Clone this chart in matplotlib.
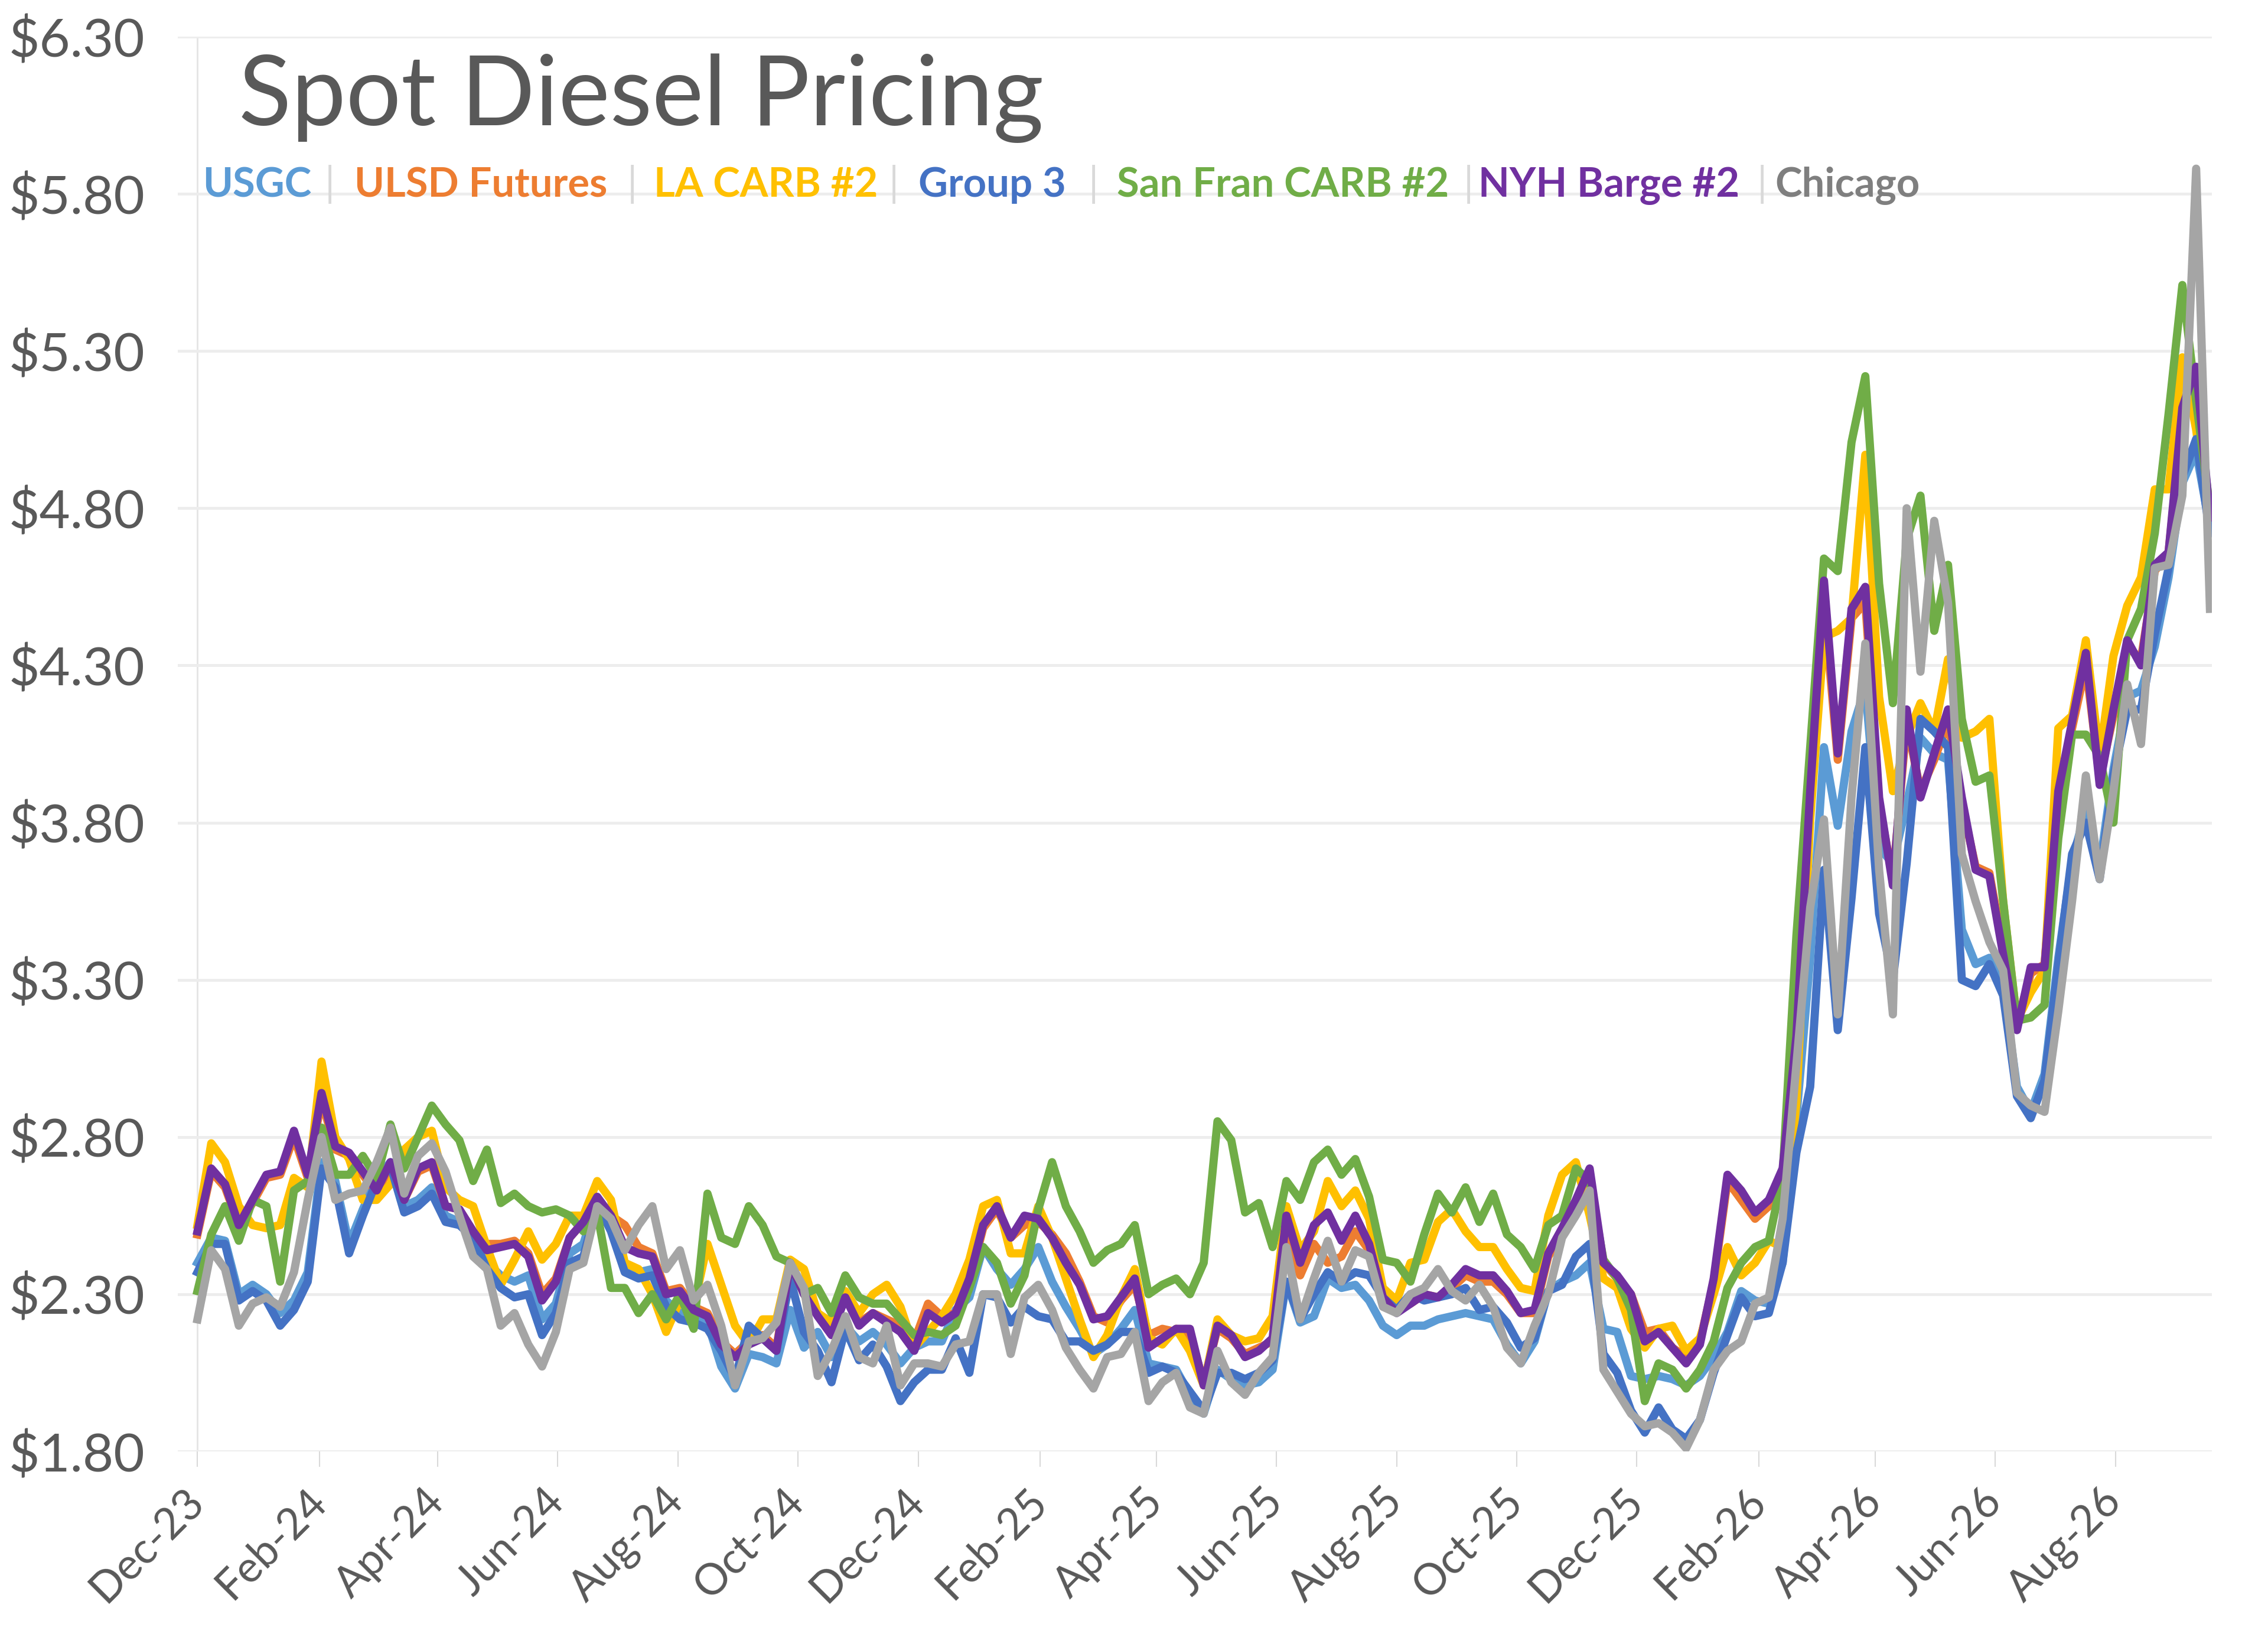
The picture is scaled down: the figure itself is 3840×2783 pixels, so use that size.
import matplotlib
matplotlib.use("Agg")
import matplotlib.pyplot as plt
import matplotlib.dates as mdates
from matplotlib.ticker import FuncFormatter
import pandas as pd
import numpy as np

plt.rcParams['font.family'] = ['Lato', 'DejaVu Sans']

# weekly samples, starting 1 Dec 2023
dates = pd.date_range('2023-12-01', periods=147, freq='7D')

usgc = [2.40, 2.48, 2.47, 2.30, 2.33, 2.30, 2.24, 2.28, 2.37, 2.72, 2.66, 2.46, 2.57, 2.67, 2.72, 2.58, 2.60, 2.64, 2.55, 2.53,
        2.49, 2.40, 2.36, 2.34, 2.36, 2.22, 2.27, 2.43, 2.46, 2.60, 2.51, 2.39, 2.37, 2.38, 2.28, 2.24, 2.22, 2.21,
        2.07, 2.00, 2.11, 2.10, 2.08, 2.25, 2.13, 2.18, 2.10, 2.20, 2.15, 2.18, 2.14, 2.08, 2.13, 2.15, 2.15, 2.25,
        2.29, 2.45, 2.38, 2.33, 2.38, 2.45, 2.34, 2.26, 2.19, 2.11, 2.14, 2.19, 2.25, 2.08, 2.07, 2.06, 1.98, 1.92, 2.06,
        2.03, 2.01, 2.02, 2.06, 2.34, 2.21, 2.23, 2.35, 2.32, 2.33, 2.28, 2.20, 2.17, 2.20, 2.20, 2.22, 2.23, 2.24,
        2.23, 2.22, 2.14, 2.08, 2.15, 2.31, 2.34, 2.36, 2.40, 2.19, 2.18, 2.04, 2.03, 2.04, 2.03, 2.01, 2.04, 2.10, 2.18,
        2.31, 2.28, 2.27, 2.40, 2.86, 3.37, 4.04, 3.79, 4.09, 4.23, 3.72, 3.67, 3.86, 4.07, 4.02, 4.00, 3.46, 3.35, 3.37,
        3.28, 2.96, 2.88, 3.00, 3.37, 3.68, 3.84, 3.66, 3.97, 4.20, 4.22, 4.36, 4.58, 4.88, 4.98, 4.74]

ulsd = [2.49, 2.69, 2.64, 2.52, 2.59, 2.67, 2.68, 2.80, 2.67, 2.92, 2.76, 2.74, 2.68, 2.62, 2.71, 2.60, 2.69, 2.71, 2.58, 2.57,
        2.50, 2.46, 2.46, 2.47, 2.43, 2.30, 2.35, 2.48, 2.53, 2.60, 2.55, 2.52, 2.45, 2.43, 2.31, 2.32, 2.26, 2.24,
        2.15, 2.11, 2.15, 2.17, 2.13, 2.39, 2.31, 2.24, 2.18, 2.29, 2.21, 2.24, 2.22, 2.20, 2.15, 2.27, 2.23, 2.24,
        2.34, 2.51, 2.57, 2.48, 2.52, 2.53, 2.49, 2.43, 2.34, 2.23, 2.21, 2.28, 2.33, 2.17, 2.19, 2.18, 2.17, 2.02, 2.19,
        2.16, 2.11, 2.13, 2.15, 2.50, 2.36, 2.46, 2.40, 2.42, 2.50, 2.44, 2.28, 2.25, 2.27, 2.30, 2.29, 2.32, 2.36,
        2.34, 2.34, 2.30, 2.24, 2.24, 2.42, 2.49, 2.58, 2.66, 2.40, 2.35, 2.30, 2.18, 2.19, 2.13, 2.10, 2.15, 2.34, 2.66,
        2.60, 2.54, 2.58, 2.68, 3.10, 3.86, 4.50, 4.00, 4.45, 4.50, 3.86, 3.62, 4.12, 3.90, 4.00, 4.12, 3.86, 3.66, 3.64,
        3.40, 3.16, 3.32, 3.35, 3.86, 4.10, 4.30, 3.94, 4.14, 4.36, 4.32, 4.60, 4.66, 5.08, 5.22, 4.75]

la_carb = [2.52, 2.78, 2.72, 2.58, 2.52, 2.51, 2.52, 2.67, 2.64, 3.04, 2.80, 2.73, 2.60, 2.60, 2.65, 2.76, 2.80, 2.82, 2.64, 2.60,
           2.58, 2.45, 2.33, 2.41, 2.50, 2.41, 2.46, 2.55, 2.55, 2.66, 2.60, 2.40, 2.38, 2.30, 2.18, 2.28, 2.26, 2.46,
           2.33, 2.20, 2.14, 2.22, 2.22, 2.41, 2.38, 2.24, 2.21, 2.31, 2.24, 2.30, 2.33, 2.26, 2.13, 2.18, 2.23, 2.30,
           2.41, 2.58, 2.60, 2.43, 2.43, 2.58, 2.48, 2.35, 2.22, 2.10, 2.17, 2.29, 2.38, 2.16, 2.14, 2.19, 2.12, 2.01, 2.22,
           2.17, 2.15, 2.16, 2.23, 2.58, 2.44, 2.50, 2.66, 2.58, 2.63, 2.54, 2.32, 2.28, 2.40, 2.41, 2.53, 2.57, 2.50,
           2.45, 2.45, 2.38, 2.32, 2.31, 2.55, 2.68, 2.72, 2.55, 2.35, 2.32, 2.19, 2.13, 2.19, 2.20, 2.12, 2.16, 2.30, 2.45,
           2.36, 2.40, 2.47, 2.45, 2.91, 3.81, 4.39, 4.41, 4.45, 4.97, 4.20, 3.90, 4.07, 4.18, 4.09, 4.32, 4.07, 4.09, 4.13,
           3.55, 3.17, 3.26, 3.33, 4.10, 4.14, 4.38, 4.01, 4.33, 4.49, 4.58, 4.86, 4.86, 5.28, 5.05, 4.72]

group3 = [2.37, 2.46, 2.46, 2.28, 2.31, 2.28, 2.20, 2.25, 2.34, 2.70, 2.64, 2.43, 2.55, 2.66, 2.71, 2.56, 2.58, 2.62, 2.53, 2.52,
          2.48, 2.38, 2.32, 2.29, 2.30, 2.17, 2.24, 2.40, 2.42, 2.59, 2.50, 2.37, 2.35, 2.36, 2.26, 2.22, 2.21, 2.19,
          2.12, 2.03, 2.20, 2.16, 2.12, 2.35, 2.18, 2.12, 2.02, 2.19, 2.09, 2.14, 2.07, 1.96, 2.02, 2.06, 2.06, 2.16,
          2.05, 2.30, 2.29, 2.21, 2.26, 2.23, 2.22, 2.15, 2.15, 2.12, 2.14, 2.18, 2.18, 2.05, 2.07, 2.05, 1.99, 1.93, 2.05,
          2.05, 2.03, 2.05, 2.09, 2.34, 2.22, 2.30, 2.37, 2.34, 2.37, 2.36, 2.29, 2.25, 2.30, 2.28, 2.29, 2.30, 2.32,
          2.25, 2.26, 2.21, 2.13, 2.16, 2.31, 2.33, 2.42, 2.46, 2.11, 2.05, 1.93, 1.86, 1.94, 1.87, 1.84, 1.90, 2.05, 2.17,
          2.29, 2.23, 2.24, 2.40, 2.75, 2.96, 3.65, 3.14, 3.56, 4.04, 3.51, 3.30, 3.67, 4.13, 4.09, 4.04, 3.30, 3.28, 3.35,
          3.25, 2.93, 2.86, 2.98, 3.35, 3.70, 3.80, 3.62, 3.95, 4.16, 4.16, 4.40, 4.61, 4.90, 5.02, 4.72]

sf_carb = [2.31, 2.49, 2.58, 2.47, 2.60, 2.58, 2.34, 2.63, 2.66, 2.83, 2.68, 2.68, 2.74, 2.67, 2.84, 2.70, 2.80, 2.90, 2.84, 2.79,
           2.66, 2.76, 2.59, 2.62, 2.58, 2.56, 2.57, 2.55, 2.50, 2.56, 2.32, 2.32, 2.24, 2.30, 2.22, 2.30, 2.19, 2.62,
           2.48, 2.46, 2.58, 2.52, 2.42, 2.40, 2.30, 2.32, 2.24, 2.36, 2.29, 2.27, 2.27, 2.22, 2.17, 2.18, 2.17, 2.20,
           2.32, 2.45, 2.40, 2.27, 2.36, 2.57, 2.72, 2.58, 2.50, 2.40, 2.44, 2.46, 2.52, 2.30, 2.33, 2.35, 2.30, 2.40, 2.85,
           2.79, 2.56, 2.59, 2.45, 2.66, 2.60, 2.72, 2.76, 2.68, 2.73, 2.61, 2.41, 2.40, 2.34, 2.49, 2.62, 2.56, 2.64,
           2.53, 2.62, 2.49, 2.45, 2.38, 2.52, 2.55, 2.70, 2.66, 2.41, 2.35, 2.25, 1.96, 2.08, 2.06, 2.00, 2.06, 2.15, 2.32,
           2.40, 2.45, 2.47, 2.68, 3.44, 4.04, 4.64, 4.60, 5.01, 5.22, 4.56, 4.18, 4.70, 4.84, 4.41, 4.62, 4.13, 3.93, 3.95,
           3.55, 3.17, 3.18, 3.22, 3.75, 4.08, 4.08, 4.01, 3.80, 4.38, 4.48, 4.72, 5.10, 5.51, 5.14, 4.80]

nyh_barge = [2.50, 2.70, 2.65, 2.52, 2.60, 2.68, 2.69, 2.82, 2.68, 2.94, 2.77, 2.75, 2.69, 2.63, 2.72, 2.60, 2.70, 2.72, 2.58, 2.57,
             2.50, 2.44, 2.45, 2.46, 2.42, 2.28, 2.34, 2.48, 2.53, 2.61, 2.55, 2.45, 2.43, 2.42, 2.30, 2.31, 2.25, 2.23,
             2.14, 2.10, 2.14, 2.16, 2.12, 2.40, 2.30, 2.23, 2.17, 2.29, 2.20, 2.24, 2.21, 2.18, 2.12, 2.24, 2.21, 2.24,
             2.35, 2.52, 2.58, 2.48, 2.55, 2.54, 2.48, 2.40, 2.33, 2.22, 2.23, 2.29, 2.35, 2.13, 2.16, 2.19, 2.19, 2.01, 2.20,
             2.17, 2.10, 2.12, 2.16, 2.55, 2.40, 2.52, 2.56, 2.47, 2.55, 2.46, 2.29, 2.24, 2.27, 2.30, 2.29, 2.33, 2.38,
             2.36, 2.36, 2.31, 2.24, 2.25, 2.43, 2.51, 2.60, 2.70, 2.40, 2.36, 2.30, 2.15, 2.18, 2.13, 2.08, 2.14, 2.35, 2.68,
             2.63, 2.56, 2.60, 2.70, 3.12, 3.90, 4.57, 4.02, 4.48, 4.55, 3.88, 3.60, 4.16, 3.88, 4.02, 4.16, 3.88, 3.65, 3.63,
             3.38, 3.14, 3.34, 3.34, 3.90, 4.12, 4.34, 3.92, 4.16, 4.38, 4.30, 4.62, 4.66, 5.12, 5.25, 4.77]

chicago = [2.22, 2.44, 2.38, 2.20, 2.27, 2.29, 2.26, 2.37, 2.60, 2.80, 2.60, 2.62, 2.63, 2.72, 2.83, 2.62, 2.74, 2.78, 2.69, 2.55,
           2.42, 2.38, 2.20, 2.24, 2.14, 2.07, 2.18, 2.38, 2.40, 2.58, 2.54, 2.44, 2.52, 2.58, 2.38, 2.44, 2.28, 2.33,
           2.20, 2.01, 2.15, 2.16, 2.21, 2.40, 2.32, 2.04, 2.12, 2.23, 2.10, 2.08, 2.20, 2.01, 2.08, 2.08, 2.07, 2.14,
           2.15, 2.30, 2.30, 2.11, 2.29, 2.33, 2.25, 2.13, 2.06, 2.00, 2.10, 2.11, 2.18, 1.96, 2.02, 2.05, 1.94, 1.92, 2.12,
           2.02, 1.98, 2.05, 2.10, 2.45, 2.22, 2.35, 2.47, 2.34, 2.44, 2.42, 2.26, 2.24, 2.30, 2.32, 2.38, 2.31, 2.28,
           2.33, 2.26, 2.13, 2.08, 2.20, 2.30, 2.48, 2.55, 2.63, 2.06, 1.99, 1.92, 1.88, 1.89, 1.86, 1.81, 1.90, 2.06, 2.12,
           2.15, 2.27, 2.29, 2.54, 3.03, 3.53, 3.81, 3.19, 3.88, 4.37, 3.65, 3.19, 4.80, 4.28, 4.76, 4.50, 3.70, 3.55, 3.42,
           3.33, 2.94, 2.90, 2.88, 3.20, 3.55, 3.95, 3.62, 3.90, 4.24, 4.05, 4.61, 4.62, 4.84, 5.88, 4.48]

names = ["USGC", "ULSD Futures", "LA CARB #2", "Group 3", "San Fran CARB #2", "NYH Barge #2", "Chicago"]
colors = ["#5B9BD5", "#ED7D31", "#FFC000", "#4472C4", "#70AD47", "#7030A0", "#A5A5A5"]
values = [usgc, ulsd, la_carb, group3, sf_carb, nyh_barge, chicago]

W, H = 3840, 2783
fig = plt.figure(figsize=(W / 250, H / 250), dpi=250)
ax = fig.add_axes([301 / W, 1 - 2457 / H, (3745 - 301) / W, (2457 - 62) / H])

for name, vals, col in zip(names, values, colors):
    ax.plot(dates, vals, color=col, lw=4.0, solid_joinstyle='round', label=name)

ax.set_ylim(1.8, 6.3)
ax.set_yticks(np.arange(1.8, 6.31, 0.5))
ax.yaxis.set_major_formatter(FuncFormatter(lambda v, p: "${:.2f}".format(v)))
ax.set_xlim(dates[0] - pd.Timedelta(days=10), dates[-1] + pd.Timedelta(days=1))
ax.xaxis.set_major_locator(mdates.MonthLocator(bymonth=[2, 4, 6, 8, 10, 12]))
ax.xaxis.set_major_formatter(mdates.DateFormatter('%b-%y'))

ax.yaxis.grid(True, color='#EDEDED', lw=1.4)
ax.set_axisbelow(True)
ax.axvline(dates[0], color='#E4E4E4', lw=0.8, zorder=0.5)
for s in ax.spines.values():
    s.set_visible(False)

ax.tick_params(axis='y', length=0, pad=16, labelsize=26, labelcolor='#595959')
ax.tick_params(axis='x', length=7.5, width=0.6, color='#D9D9D9', pad=14, labelsize=21, labelcolor='#595959')
plt.setp(ax.get_xticklabels(), rotation=45, ha='right', va='center', rotation_mode='anchor')

fig.text(404 / W, 1 - 212 / H, "Spot Diesel Pricing", fontsize=47.5, color='#595959', va='baseline')

# custom legend row
legend_x = [343, 600, 1107, 1555, 1891, 2503, 3005]
sep_x = [558, 1070, 1513, 1851, 2486, 2983]
text_cols = ["#5B9BD5", "#ED7D31", "#FFC000", "#4472C4", "#70AD47", "#7030A0", "#7F7F7F"]
for nm, lx, tc in zip(names, legend_x, text_cols):
    fig.text(lx / W, 1 - 333 / H, nm, fontsize=19.8, fontweight='bold', color=tc, va='baseline')
for sx in sep_x:
    fig.text(sx / W, 1 - 333 / H, "|", fontsize=19.8, color='#D9D9D9', va='baseline', ha='center')

fig.savefig("out.png", dpi=250, facecolor='white')
